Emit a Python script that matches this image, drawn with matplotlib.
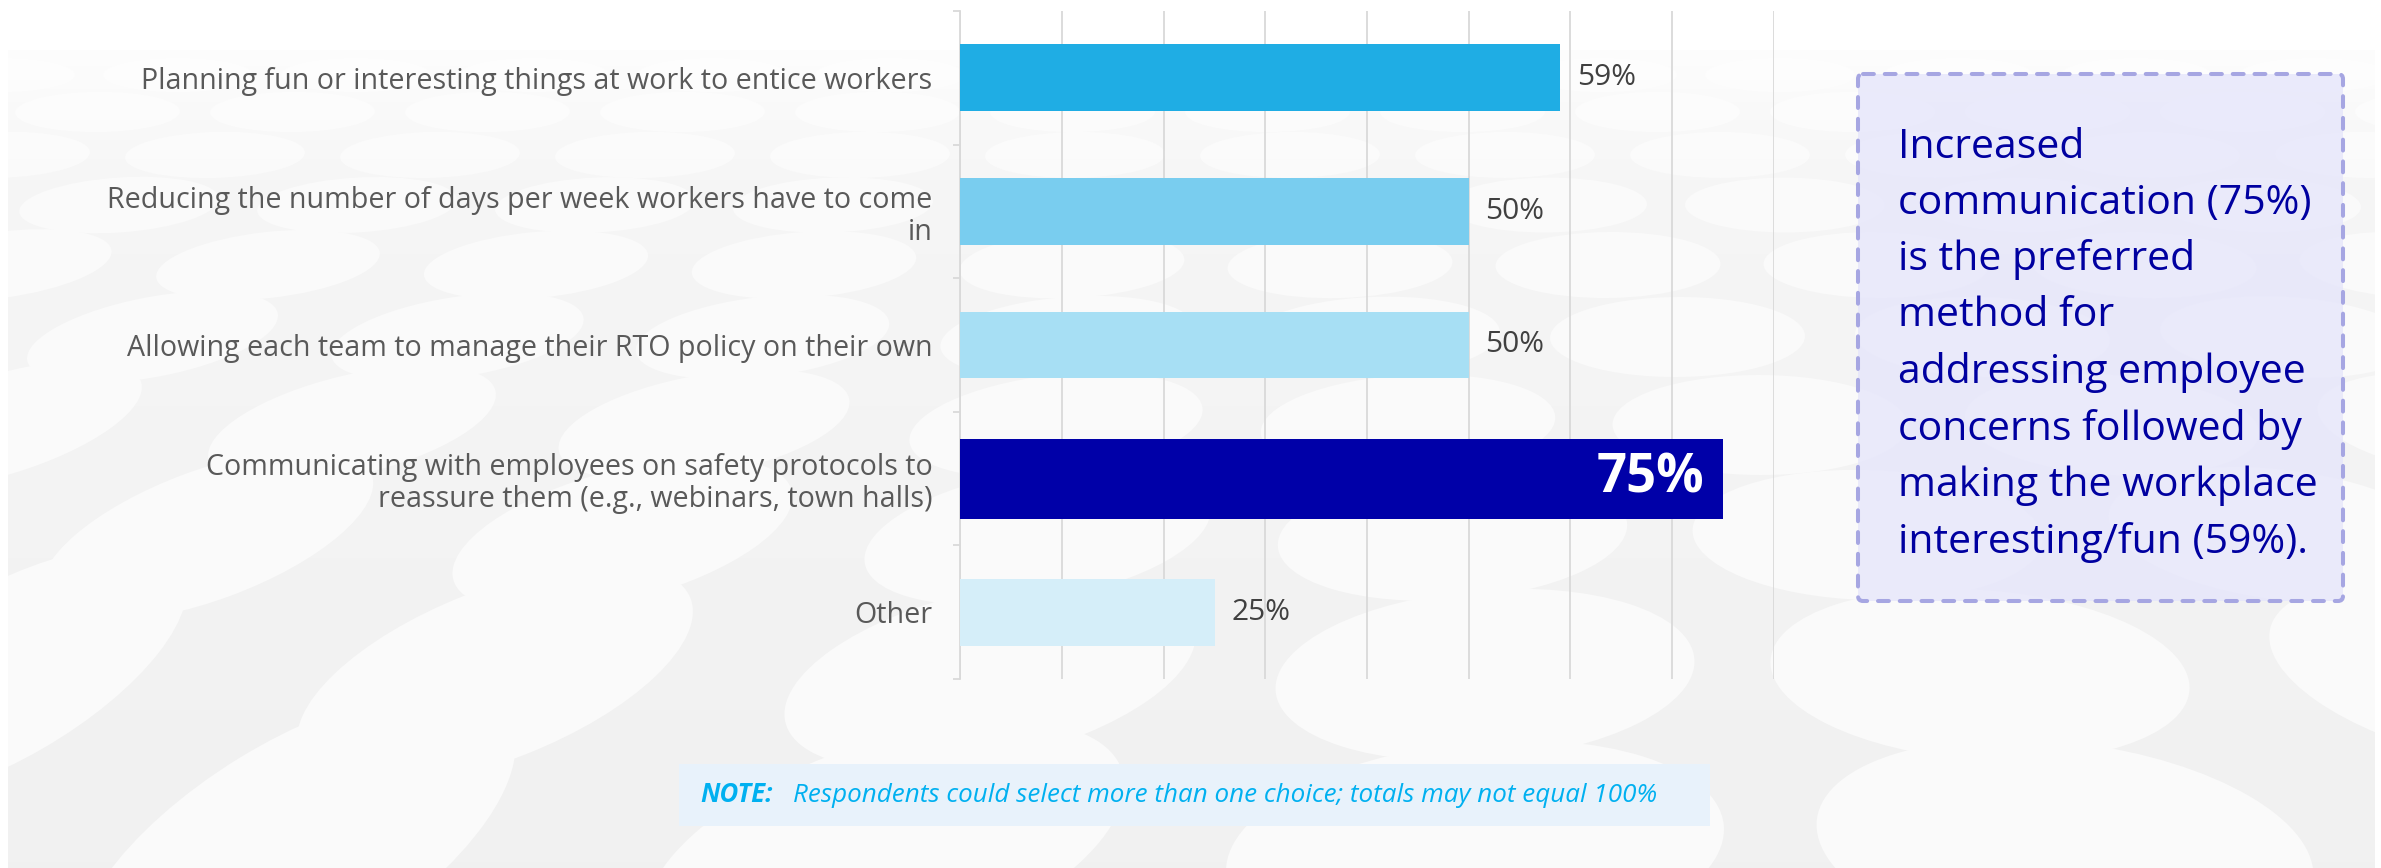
import matplotlib
matplotlib.use("Agg")
import matplotlib.pyplot as plt
from matplotlib.patches import Ellipse, Rectangle, FancyBboxPatch
import numpy as np

# ---- chart data -------------------------------------------------------------
categories = [
    "Planning fun or interesting things at work to entice workers",
    "Reducing the number of days per week workers have to come\nin",
    "Allowing each team to manage their RTO policy on their own",
    "Communicating with employees on safety protocols to\nreassure them (e.g., webinars, town halls)",
    "Other",
]
values = [59, 50, 50, 75, 25]
bar_colors = ["#1FADE4", "#79CDEF", "#A7DFF4", "#0000A8", "#D5EEF9"]
highlight = [False, False, False, True, False]
x_ticks = [0, 10, 20, 30, 40, 50, 60, 70, 80]

callout_text = ("Increased\ncommunication (75%)\nis the preferred\nmethod for\n"
                "addressing employee\nconcerns followed by\nmaking the workplace\n"
                "interesting/fun (59%).")
note_label = "NOTE:"
note_text = "Respondents could select more than one choice; totals may not equal 100%"

FONT = ["Open Sans", "DejaVu Sans"]
plt.rcParams["font.family"] = FONT

W, H = 2381, 868
fig = plt.figure(figsize=(W / 100, H / 100), dpi=100, facecolor="white")

# ---- decorative backdrop (pixel coordinates, y down) -------------------------
bg = fig.add_axes([0, 0, 1, 1])
bg.set_zorder(0)
bg.axis("off")

x0, x1, y0, y1 = 8, 2375, 50, H
shade = np.linspace(0.966, 0.945, 200)
grad = np.dstack([shade, shade, shade]).reshape(200, 1, 3)
bg.imshow(grad, extent=(x0, x1, y1, y0), aspect="auto", interpolation="bilinear", zorder=0)
clip = Rectangle((x0, y0), x1 - x0, y1 - y0, transform=bg.transData)

# rows of pale discs growing toward the bottom (y, width, height, pitch, shift)
disc_rows = [
    (75, 150, 34, 178, 0.0),
    (112, 165, 40, 195, 0.5),
    (155, 180, 46, 215, 0.0),
    (205, 200, 55, 238, 0.5),
    (265, 225, 66, 268, 0.0),
    (337, 255, 80, 305, 0.5),
    (425, 295, 100, 352, 0.0),
    (535, 350, 130, 415, 0.5),
    (675, 420, 170, 495, 0.0),
    (850, 500, 215, 590, 0.5),
]
n_rows = len(disc_rows)
for r, (yc, w, h, pitch, shift) in enumerate(disc_rows):
    strength = (r / (n_rows - 1)) ** 2
    xc = -pitch + shift * pitch
    while xc < W + pitch:
        tilt = strength * (38 - 52 * xc / W)
        e = Ellipse((xc, yc), w, h, angle=-tilt, fc="#FAFAFA", ec="none", zorder=1)
        bg.add_patch(e)
        e.set_clip_path(clip)
        xc += pitch

# soften the top of the backdrop
fade = np.zeros((200, 1, 4))
fade[..., :3] = 1.0
fade[:, 0, 3] = np.clip(np.linspace(0.75, -0.6, 200), 0, 1)
bg.imshow(fade, extent=(x0, x1, 320, y0), aspect="auto", interpolation="bilinear", zorder=2)

# callout box
box = FancyBboxPatch((1858, 74), 485, 527, boxstyle="round,pad=0,rounding_size=5",
                     fc=(0.90, 0.90, 0.985, 0.8), ec="#A6A6E2", lw=2.9,
                     ls=(0, (2.7, 2.7)), zorder=3)
box.set_capstyle("round")
bg.add_patch(box)
bg.text(1898, 345, callout_text, ha="left", va="center", color="#0000A0",
        fontsize=29.5, linespacing=1.51, zorder=4)

# note strip
bg.add_patch(Rectangle((679, 764), 1031, 62, fc="#E8F2FB", ec="none", zorder=3))
note = bg.text(700, 795, note_label, ha="left", va="center", color="#00B0F0",
               fontsize=18.5, fontweight="bold", style="italic", zorder=4)
bg.annotate(note_text, xy=(1, 0.5), xycoords=note, xytext=(15, 0),
            textcoords="offset points", ha="left", va="center", color="#00B0F0",
            fontsize=18.7, style="italic", zorder=4)

bg.set_xlim(0, W)
bg.set_ylim(H, 0)

# ---- bar chart ---------------------------------------------------------------
ax = fig.add_axes([960.4 / W, 1 - 679 / H, (1773.6 - 960.4) / W, 668 / H])
ax.set_zorder(2)
ax.patch.set_visible(False)

ypos = np.arange(len(categories))
for i, (v, c, hl) in enumerate(zip(values, bar_colors, highlight)):
    ax.barh(i, v, height=0.6 if hl else 0.5, color=c, zorder=3)
    if hl:
        ax.annotate(f"{v}%", xy=(v, i), xytext=(-13, 0), textcoords="offset points",
                    ha="right", va="center", color="white", fontsize=38,
                    fontweight="bold", zorder=4)
    else:
        ax.annotate(f"{v}%", xy=(v, i), xytext=(12, 0), textcoords="offset points",
                    ha="left", va="center", color="#404040", fontsize=21.5, zorder=4)

ax.set_xlim(0, 80)
ax.set_ylim(len(categories) - 0.5, -0.5)
ax.set_xticks(x_ticks)
ax.xaxis.grid(True, color="#D9D9D9", lw=1.3, zorder=0)
ax.set_axisbelow(True)
ax.tick_params(axis="x", length=0, labelbottom=False)

ax.set_yticks(ypos)
ax.set_yticklabels(categories, fontsize=20.6, color="#595959", linespacing=1.12)
ax.set_yticks(np.arange(len(categories) + 1) - 0.5, minor=True)
ax.tick_params(axis="y", which="major", length=0, pad=20)
ax.tick_params(axis="y", which="minor", length=5, width=1.3, color="#D9D9D9")

for side in ("top", "right", "bottom"):
    ax.spines[side].set_visible(False)
ax.spines["left"].set_color("#D9D9D9")
ax.spines["left"].set_linewidth(1.3)

fig.savefig("out.png", dpi=100, facecolor="white")
